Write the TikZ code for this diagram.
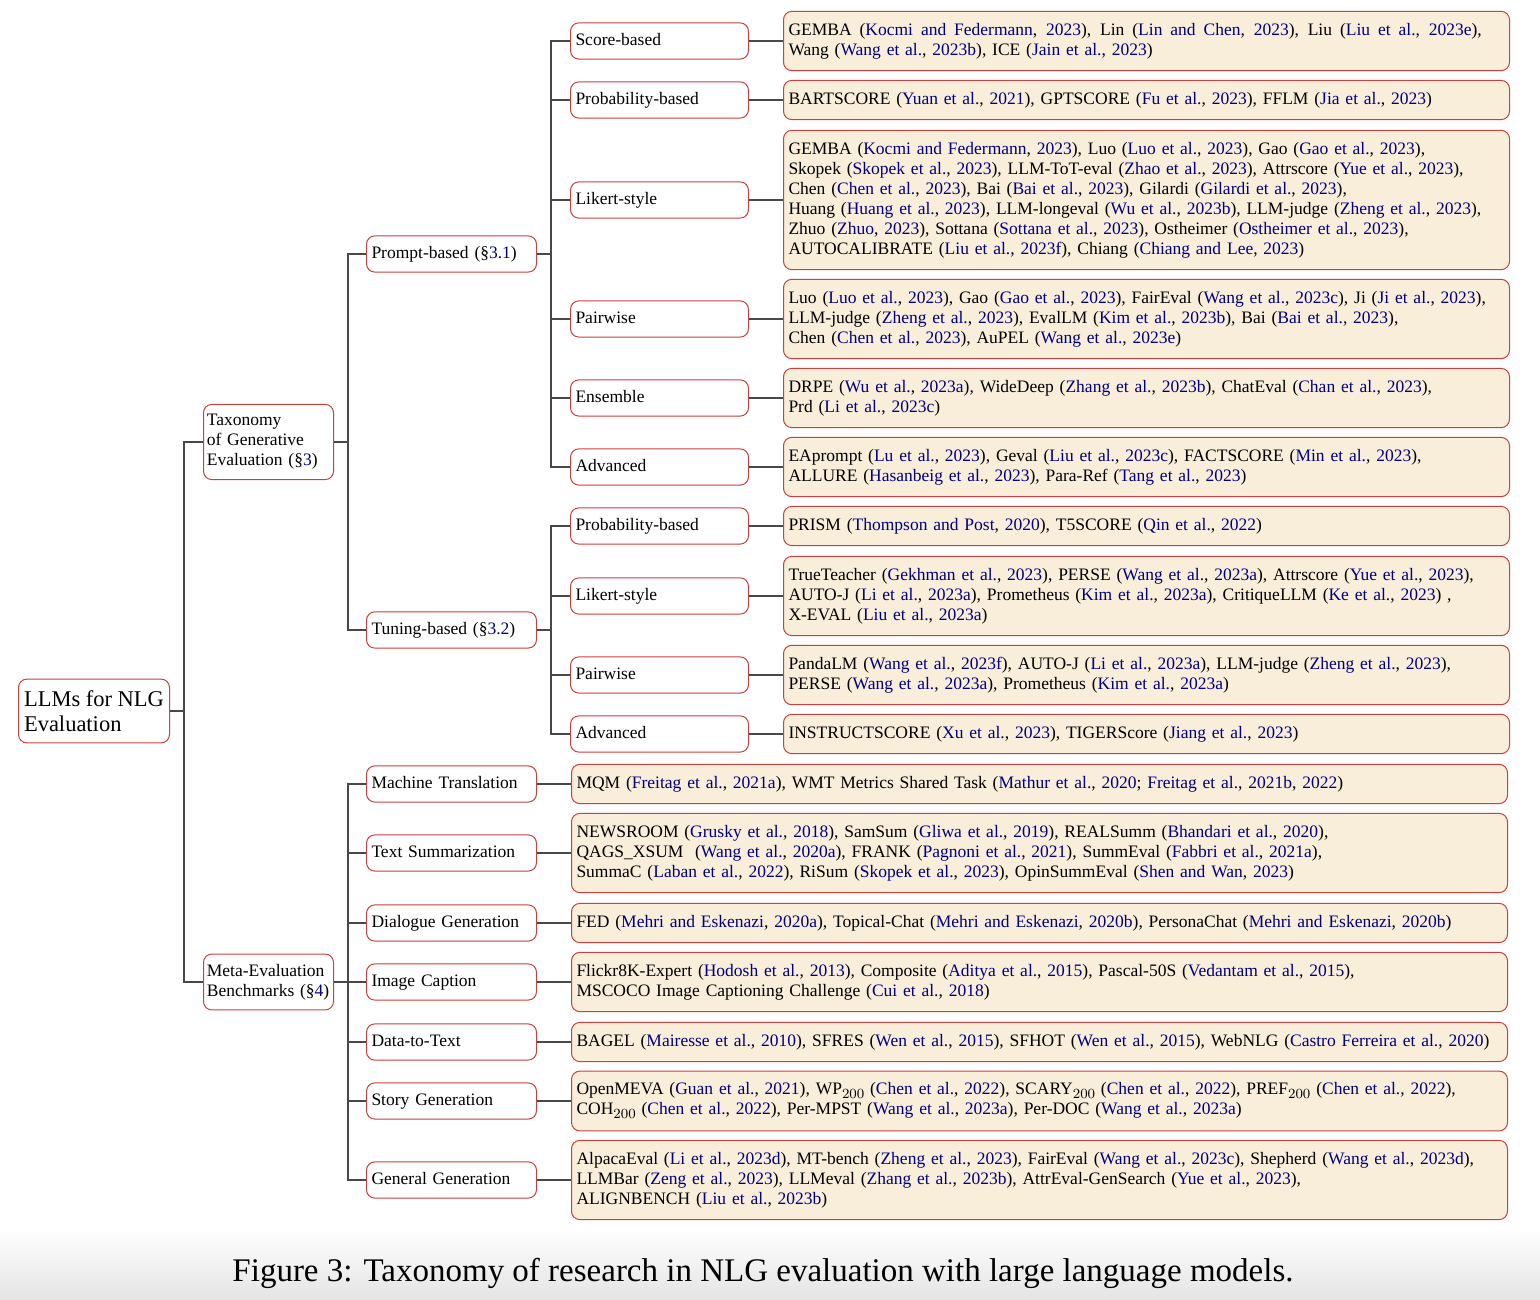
\documentclass[tikz,border=0pt]{standalone}
\usepackage[no-math]{fontspec}
\setmainfont{Liberation Serif}
\newfontfamily\lmfont{Latin Modern Roman}
\usetikzlibrary{positioning}
\definecolor{Ink}{HTML}{484848}
\definecolor{Edge}{HTML}{C8413E}
\definecolor{Sand}{HTML}{F8EEDA}
\definecolor{Cite}{HTML}{00007F}
\definecolor{Haze}{HTML}{E4E4E4}
\newcommand{\lk}[1]{\textcolor{Cite}{#1}}
\newcommand{\src}[2]{\lk{#1}, \lk{#2}}
\newcommand{\lowidx}[1]{\raisebox{-2.4pt}{\lmfont\fontsize{8.4}{9}\selectfont#1}}
\tikzset{
 box/.style={draw=Edge,fill=white,line width=0.6pt,rounded corners=5pt,align=left,anchor=west,font=\fontsize{10.5}{12}\selectfont,inner xsep=3pt,inner ysep=6pt},
 rootbox/.style={box,font=\fontsize{13.5}{15}\selectfont,minimum width=90.6pt,inner xsep=2pt,inner ysep=6.8pt},
 topbox/.style={box,text width=74pt,inner xsep=2pt},
 midbox/.style={box,text width=96pt,text height=7.4pt,text depth=2.3pt},
 catbox/.style={box,text width=100.8pt,text height=7.4pt,text depth=2.3pt},
 leaf/.style={box,fill=Sand,inner ysep=7pt,text width=429.6pt},
 wideleaf/.style={leaf,text width=555.6pt},
 link/.style={draw=Ink,line width=1.4pt}
}
\begin{document}
\begin{tikzpicture}[x=0.6pt,y=-0.6pt]
\useasboundingbox (0,0) rectangle (1540,1300);
\fill[top color=white,bottom color=Haze] (0,1228) rectangle (1540,1300);
\node[rootbox] (root) at (18,711) {LLMs for NLG\\Evaluation};
\node[topbox] (taxo) at (203,442) {Taxonomy\\of Generative\\Evaluation (§\lk{3})};
\node[topbox] (meta) at (203,982) {Meta-Evaluation\\Benchmarks (§\lk{4})};
\node[midbox] (prompt) at (366,254) {Prompt-based (§\lk{3.1})};
\node[midbox] (tuning) at (366,630) {Tuning-based (§\lk{3.2})};
\node[catbox] (pscore) at (570,41) {Score-based};
\node[catbox] (pprob) at (570,100) {Probability-based};
\node[catbox] (plikert) at (570,200) {Likert-style};
\node[catbox] (ppair) at (570,319) {Pairwise};
\node[catbox] (pens) at (570,398) {Ensemble};
\node[catbox] (padv) at (570,467) {Advanced};
\node[catbox] (tprob) at (570,526) {Probability-based};
\node[catbox] (tlikert) at (570,596) {Likert-style};
\node[catbox] (tpair) at (570,675) {Pairwise};
\node[catbox] (tadv) at (570,734) {Advanced};
\node[midbox] (bmt) at (366,784) {Machine Translation};
\node[midbox] (bts) at (366,853) {Text Summarization};
\node[midbox] (bdg) at (366,923) {Dialogue Generation};
\node[midbox] (bic) at (366,982) {Image Caption};
\node[midbox] (bdt) at (366,1042) {Data-to-Text};
\node[midbox] (bsg) at (366,1101) {Story Generation};
\node[midbox] (bgg) at (366,1180) {General Generation};
\node[leaf,right=20.4pt of pscore] (pscore-l) {\makebox[416pt][s]{\spaceskip=2.6pt plus 4pt\relax GEMBA (\src{Kocmi and Federmann}{2023}), Lin (\src{Lin and Chen}{2023}), Liu (\src{Liu et al.}{2023e}),}\\
Wang (\src{Wang et al.}{2023b}), ICE (\src{Jain et al.}{2023})};
\node[leaf,right=20.4pt of pprob] (pprob-l) {BARTSCORE (\src{Yuan et al.}{2021}), GPTSCORE (\src{Fu et al.}{2023}), FFLM (\src{Jia et al.}{2023})};
\node[leaf,right=20.4pt of plikert] (plikert-l) {GEMBA (\src{Kocmi and Federmann}{2023}), Luo (\src{Luo et al.}{2023}), Gao (\src{Gao et al.}{2023}),\\
Skopek (\src{Skopek et al.}{2023}), LLM-ToT-eval (\src{Zhao et al.}{2023}), Attrscore (\src{Yue et al.}{2023}),\\
Chen (\src{Chen et al.}{2023}), Bai (\src{Bai et al.}{2023}), Gilardi (\src{Gilardi et al.}{2023}),\\
Huang (\src{Huang et al.}{2023}), LLM-longeval (\src{Wu et al.}{2023b}), LLM-judge (\src{Zheng et al.}{2023}),\\
Zhuo (\src{Zhuo}{2023}), Sottana (\src{Sottana et al.}{2023}), Ostheimer (\src{Ostheimer et al.}{2023}),\\
AUTOCALIBRATE (\src{Liu et al.}{2023f}), Chiang (\src{Chiang and Lee}{2023})};
\node[leaf,right=20.4pt of ppair] (ppair-l) {Luo (\src{Luo et al.}{2023}), Gao (\src{Gao et al.}{2023}), FairEval (\src{Wang et al.}{2023c}), Ji (\src{Ji et al.}{2023}),\\
LLM-judge (\src{Zheng et al.}{2023}), EvalLM (\src{Kim et al.}{2023b}), Bai (\src{Bai et al.}{2023}),\\
Chen (\src{Chen et al.}{2023}), AuPEL (\src{Wang et al.}{2023e})};
\node[leaf,right=20.4pt of pens] (pens-l) {DRPE (\src{Wu et al.}{2023a}), WideDeep (\src{Zhang et al.}{2023b}), ChatEval (\src{Chan et al.}{2023}),\\
Prd (\src{Li et al.}{2023c})};
\node[leaf,right=20.4pt of padv] (padv-l) {EAprompt (\src{Lu et al.}{2023}), Geval (\src{Liu et al.}{2023c}), FACTSCORE (\src{Min et al.}{2023}),\\
ALLURE (\src{Hasanbeig et al.}{2023}), Para-Ref (\src{Tang et al.}{2023})};
\node[leaf,right=20.4pt of tprob] (tprob-l) {PRISM (\src{Thompson and Post}{2020}), T5SCORE (\src{Qin et al.}{2022})};
\node[leaf,right=20.4pt of tlikert] (tlikert-l) {TrueTeacher (\src{Gekhman et al.}{2023}), PERSE (\src{Wang et al.}{2023a}), Attrscore (\src{Yue et al.}{2023}),\\
AUTO-J (\src{Li et al.}{2023a}), Prometheus (\src{Kim et al.}{2023a}), CritiqueLLM (\src{Ke et al.}{2023}) ,\\
X-EVAL (\src{Liu et al.}{2023a})};
\node[leaf,right=20.4pt of tpair] (tpair-l) {PandaLM (\src{Wang et al.}{2023f}), AUTO-J (\src{Li et al.}{2023a}), LLM-judge (\src{Zheng et al.}{2023}),\\
PERSE (\src{Wang et al.}{2023a}), Prometheus (\src{Kim et al.}{2023a})};
\node[leaf,right=20.4pt of tadv] (tadv-l) {INSTRUCTSCORE (\src{Xu et al.}{2023}), TIGERScore (\src{Jiang et al.}{2023})};
\node[wideleaf,right=20.4pt of bmt] (bmt-l) {MQM (\src{Freitag et al.}{2021a}), WMT Metrics Shared Task (\src{Mathur et al.}{2020}; \src{Freitag et al.}{2021b}, \lk{2022})};
\node[wideleaf,right=20.4pt of bts] (bts-l) {NEWSROOM (\src{Grusky et al.}{2018}), SamSum (\src{Gliwa et al.}{2019}), REALSumm (\src{Bhandari et al.}{2020}),\\
QAGS\_XSUM\ \ (\src{Wang et al.}{2020a}), FRANK (\src{Pagnoni et al.}{2021}), SummEval (\src{Fabbri et al.}{2021a}),\\
SummaC (\src{Laban et al.}{2022}), RiSum (\src{Skopek et al.}{2023}), OpinSummEval (\src{Shen and Wan}{2023})};
\node[wideleaf,right=20.4pt of bdg] (bdg-l) {FED (\src{Mehri and Eskenazi}{2020a}), Topical-Chat (\src{Mehri and Eskenazi}{2020b}), PersonaChat (\src{Mehri and Eskenazi}{2020b})};
\node[wideleaf,right=20.4pt of bic] (bic-l) {Flickr8K-Expert (\src{Hodosh et al.}{2013}), Composite (\src{Aditya et al.}{2015}), Pascal-50S (\src{Vedantam et al.}{2015}),\\
MSCOCO Image Captioning Challenge (\src{Cui et al.}{2018})};
\node[wideleaf,right=20.4pt of bdt] (bdt-l) {BAGEL (\src{Mairesse et al.}{2010}), SFRES (\src{Wen et al.}{2015}), SFHOT (\src{Wen et al.}{2015}), WebNLG (\src{Castro Ferreira et al.}{2020})};
\node[wideleaf,right=20.4pt of bsg] (bsg-l) {OpenMEVA (\src{Guan et al.}{2021}), WP\lowidx{200} (\src{Chen et al.}{2022}), SCARY\lowidx{200} (\src{Chen et al.}{2022}), PREF\lowidx{200} (\src{Chen et al.}{2022}),\\
COH\lowidx{200} (\src{Chen et al.}{2022}), Per-MPST (\src{Wang et al.}{2023a}), Per-DOC (\src{Wang et al.}{2023a})};
\node[wideleaf,right=20.4pt of bgg] (bgg-l) {AlpacaEval (\src{Li et al.}{2023d}), MT-bench (\src{Zheng et al.}{2023}), FairEval (\src{Wang et al.}{2023c}), Shepherd (\src{Wang et al.}{2023d}),\\
LLMBar (\src{Zeng et al.}{2023}), LLMeval (\src{Zhang et al.}{2023b}), AttrEval-GenSearch (\src{Yue et al.}{2023}),\\
ALIGNBENCH (\src{Liu et al.}{2023b})};
\node[font=\fontsize{19.8}{24}\selectfont] (cap) at (763,1273) {Figure 3: Taxonomy of research in NLG evaluation with large language models.};
\foreach \p/\c in {root/taxo,root/meta,taxo/prompt,taxo/tuning,prompt/pscore,prompt/pprob,prompt/plikert,prompt/ppair,prompt/pens,prompt/padv,tuning/tprob,tuning/tlikert,tuning/tpair,tuning/tadv,meta/bmt,meta/bts,meta/bdg,meta/bic,meta/bdt,meta/bsg,meta/bgg} \draw[link] (\p.east) -- ++(8.4pt,0) |- (\c.west);
\foreach \c in {pscore,pprob,plikert,ppair,pens,padv,tprob,tlikert,tpair,tadv,bmt,bts,bdg,bic,bdt,bsg,bgg} \draw[link] (\c.east) -- (\c-l.west);
\end{tikzpicture}
\end{document}
